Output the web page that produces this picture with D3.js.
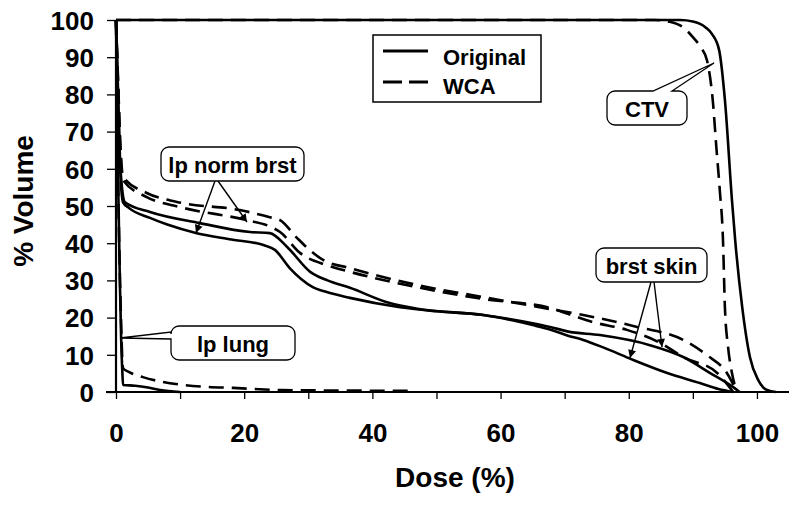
<!DOCTYPE html>
<html><head><meta charset="utf-8">
<script src="https://cdn.jsdelivr.net/npm/d3@7"></script>
<style>
body{margin:0;background:#fff;}
text{font-family:"Liberation Sans",Arial,Helvetica,sans-serif;font-weight:bold;fill:#000;}
</style></head>
<body>
<svg id="chart" width="800" height="506"></svg>
<script>
// ---- data (dose %, volume %) ----
const ctvOriginal = [[0,100],[88,100],[90,99.6],[92,98],[93,96.2],[94.1,91.9],[95,78.5],[96.1,51.6],[96.6,40.9],[97.7,22.8],[98.9,9.4],[100.2,3.2],[101,1.2],[102,0.3],[103,0]];
const ctvWCA = [[0,100],[84,100],[86.4,99.5],[88.5,98],[90,95.4],[91.3,92.5],[92.2,89.2],[93.1,78.5],[93.7,65],[94.2,54.3],[94.7,40.9],[95,22.8],[95.5,12],[96.1,5.1],[96.9,0]];
const normBrstOriginal = [[0,100],[0.3,80],[0.6,62],[1.1,51],[2,49.5],[5.3,46.8],[8,45],[12.6,42.7],[18,41],[23,39.5],[24.8,38.2],[27.1,33.3],[30.7,28.2],[33,26.8],[36.5,25.3],[44.3,22.8],[50,21.7],[57.3,20.7],[62,19.2],[65,18],[67.7,16.8],[70.4,15.2],[72.9,14],[76,12],[80.7,8.6],[86,5.1],[91.1,2.4],[94,0.8],[96.3,0]];
const skinOriginal = [[0,100],[0.3,82],[0.7,60],[1.4,51],[5.3,48.4],[13.1,45.4],[20.9,43],[24,42.7],[26.7,39],[30.3,32.3],[33,30],[36.5,28],[42.7,23.9],[47,22.4],[57.3,20.7],[65,18.5],[67.7,17.5],[70.4,16.3],[75.5,15.3],[83.3,12.6],[88.5,9.4],[92.7,5.1],[96.3,1.3],[97.3,0]];
const skinWCA = [[0,100],[0.3,85],[0.7,66],[1.1,57.8],[4.8,53.5],[9.5,51.1],[19.3,48.9],[24,47],[25.6,46.2],[28.2,41.5],[30,38.5],[32.3,35.5],[36.5,33.3],[46.9,28.8],[57.3,25.5],[67.7,22.3],[72.9,20.7],[81.3,17.5],[88.5,14],[92.2,9.9],[95.3,5.1],[96.9,0]];
const normBrstWCA = [[0,100],[0.3,84],[0.7,64],[1.1,57],[4.8,52.4],[10,49.7],[20.4,46.2],[24,44.5],[25.6,43],[28.7,37.4],[32.9,34.1],[36.5,32.3],[46.9,28.2],[57.3,25],[67.7,22.6],[70.5,21],[74.4,18.8],[79.7,16.7],[84.9,13.2],[88.5,9.4],[93.8,5.1],[96.3,0]];
const lungOriginal = [[0,100],[0.3,60],[0.6,30],[0.8,14.5],[1,5],[1.1,1.9],[3,1.7],[5,1.2],[6.9,0.5],[10,0]];
const lungWCA = [[0,100],[0.3,60],[0.7,25],[1.1,6.4],[2,5.4],[4.2,4],[7,2.8],[10.5,1.9],[14,1.4],[18.3,1.1],[26,0.5],[35,0.4],[46,0.3]];

const xTicks = [0,10,20,30,40,50,60,70,80,90,100];
const xLabels = [0,20,40,60,80,100];
const yTicks = [0,10,20,30,40,50,60,70,80,90,100];
const legendLabels = ["Original","WCA"];
const xTitle = "Dose (%)";
const yTitle = "% Volume";

// ---- drawing ----
const svg = d3.select("#chart");
const x = d3.scaleLinear().domain([0,105]).range([116, 789]);
const y = d3.scaleLinear().domain([0,100]).range([392, 20]);
const line = d3.line().x(d=>x(d[0])).y(d=>y(d[1])).curve(d3.curveMonotoneX);

const DASH = "15,8";
const series = [
  {d: ctvOriginal, dash:null},
  {d: ctvWCA, dash:DASH},
  {d: normBrstOriginal, dash:null},
  {d: skinOriginal, dash:null},
  {d: skinWCA, dash:DASH},
  {d: normBrstWCA, dash:DASH},
  {d: lungOriginal, dash:null},
  {d: lungWCA, dash:DASH}
];
svg.append("g").selectAll("path").data(series).join("path")
  .attr("d", s=>line(s.d))
  .attr("fill","none").attr("stroke","#000").attr("stroke-width",2.6)
  .attr("stroke-linejoin","round")
  .attr("stroke-dasharray", s=>s.dash);

// axes
const gx = svg.append("g").attr("transform",`translate(0,${y(0)})`)
  .call(d3.axisBottom(x).tickValues(xTicks).tickSize(7).tickFormat(d=>xLabels.includes(d)?d:""));
gx.select(".domain").attr("stroke-width",2.2).attr("d",`M${x(0)-10},0H${x(105)}`);
gx.selectAll(".tick line").attr("stroke-width",1.3);
gx.selectAll(".tick text").attr("font-size",26).attr("font-family","Liberation Sans, Arial, sans-serif").attr("font-weight","bold").attr("dy",0).attr("y",50);

const gy = svg.append("g").attr("transform",`translate(${x(0)},0)`)
  .call(d3.axisLeft(y).tickValues(yTicks).tickSize(9));
gy.select(".domain").attr("stroke-width",2.2).attr("d",`M0,${y(0)}V${y(100)}`);
gy.selectAll(".tick line").attr("stroke-width",1.3);
gy.selectAll(".tick text").attr("font-size",26).attr("font-family","Liberation Sans, Arial, sans-serif").attr("font-weight","bold").attr("x",-22).attr("dy","0.36em");

// axis titles
svg.append("text").attr("x",455).attr("y",487).attr("text-anchor","middle").attr("font-size",28).text(xTitle);
svg.append("text").attr("transform","translate(33,201) rotate(-90)").attr("text-anchor","middle").attr("font-size",28).text(yTitle);

// legend
const lg = svg.append("g");
lg.append("rect").attr("x",373).attr("y",35).attr("width",168).attr("height",67).attr("fill","#fff").attr("stroke","#000").attr("stroke-width",1.5);
lg.append("line").attr("x1",383).attr("x2",428).attr("y1",51).attr("y2",51).attr("stroke","#000").attr("stroke-width",3);
lg.append("line").attr("x1",383).attr("x2",428).attr("y1",82).attr("y2",82).attr("stroke","#000").attr("stroke-width",3).attr("stroke-dasharray","19,7");
lg.append("text").attr("x",443).attr("y",65).attr("font-size",22).text(legendLabels[0]);
lg.append("text").attr("x",443).attr("y",94).attr("font-size",22).text(legendLabels[1]);

// callouts
function bubble(x0,y0,x1,y1,r,w){
  const p = d3.path();
  p.moveTo(x0+r,y0);
  if(w && w.side==="top"){p.lineTo(w.a,y0);p.lineTo(w.tip[0],w.tip[1]);p.lineTo(w.b,y0);}
  p.lineTo(x1-r,y0); p.arcTo(x1,y0,x1,y0+r,r);
  p.lineTo(x1,y1-r); p.arcTo(x1,y1,x1-r,y1,r);
  p.lineTo(x0+r,y1); p.arcTo(x0,y1,x0,y1-r,r);
  if(w && w.side==="left"){p.lineTo(x0,w.b);p.lineTo(w.tip[0],w.tip[1]);p.lineTo(x0,w.a);}
  p.lineTo(x0,y0+r); p.arcTo(x0,y0,x0+r,y0,r);
  p.closePath();
  return p.toString();
}
const defs = svg.append("defs");
defs.append("marker").attr("id","ah").attr("viewBox","0 0 10 10").attr("refX",10).attr("refY",5)
  .attr("markerWidth",11).attr("markerHeight",8).attr("markerUnits","userSpaceOnUse").attr("orient","auto")
  .append("path").attr("d","M0,0L10,5L0,10Z").attr("fill","#000");

const callouts = [
  {label:"lp norm brst", box:[161,147,304,181], w:null, arrows:[[215,181,196,233],[218,181,247,222]]},
  {label:"brst skin", box:[596,248,707,282], w:null, arrows:[[651,282,630,358],[654,282,662,347]]},
  {label:"CTV", box:[607,91,687,125], w:{side:"top",a:653,b:672,tip:[714,63]}, arrows:[]},
  {label:"lp lung", box:[171,326,295,360], w:{side:"left",a:332,b:339,tip:[120,338]}, arrows:[]}
];
callouts.forEach(c=>{
  const g = svg.append("g");
  c.arrows.forEach(a=>{
    g.append("line").attr("x1",a[0]).attr("y1",a[1]).attr("x2",a[2]).attr("y2",a[3])
      .attr("stroke","#000").attr("stroke-width",1.4).attr("marker-end","url(#ah)");
  });
  const [x0,y0,x1,y1] = c.box;
  g.append("path").attr("d",bubble(x0,y0,x1,y1,8,c.w)).attr("fill","#fff").attr("stroke","#000").attr("stroke-width",1.3);
  g.append("text").attr("x",(x0+x1)/2).attr("y",y1-8).attr("text-anchor","middle").attr("font-size",22).text(c.label);
});
</script>
</body></html>
